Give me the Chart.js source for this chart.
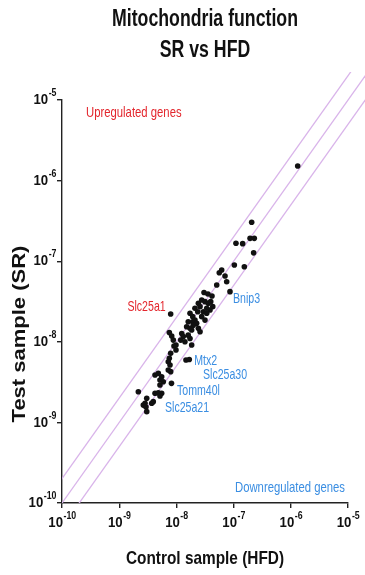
<!DOCTYPE html>
<html>
<head>
<meta charset="utf-8">
<script src="https://cdn.jsdelivr.net/npm/chart.js@4.4.1/dist/chart.umd.min.js"></script>
<style>
  html, body { margin: 0; padding: 0; background: #fff; }
</style>
</head>
<body>
<canvas id="chart" width="365" height="575"></canvas>
<script>
// expression per gene: control (HFD) on x, test (SR) on y
const controlHFD = [
  1.32e-6, 2.07e-7, 1.94e-7, 2.30e-7, 1.10e-7, 1.44e-7, 2.24e-7, 1.03e-7, 1.54e-7, 6.19e-8,
  5.62e-8, 7.08e-8, 7.57e-8, 5.07e-8, 8.65e-8, 3.04e-8, 3.56e-8, 4.19e-8, 2.77e-8, 3.16e-8,
  3.61e-8, 3.98e-8, 2.42e-8, 2.59e-8, 3.39e-8, 3.87e-8, 4.32e-8, 2.11e-8, 2.36e-8, 2.95e-8,
  3.39e-8, 7.94e-9, 1.73e-8, 1.93e-8, 2.77e-8, 3.16e-8, 1.61e-8, 1.93e-8, 2.11e-8, 2.26e-8,
  1.97e-8, 1.51e-8, 1.73e-8, 1.85e-8, 2.42e-8, 2.59e-8, 7.52e-9, 8.28e-9, 8.83e-9, 1.24e-8,
  1.32e-8, 1.19e-8, 1.41e-8, 1.73e-8, 1.85e-8, 9.08e-9, 9.84e-9, 1.61e-8, 9.84e-9, 7.94e-9,
  7.52e-9, 7.21e-9, 7.73e-9, 7.21e-9, 7.94e-9, 1.47e-8, 1.68e-8, 4.23e-9, 4.83e-9, 5.53e-9,
  5.16e-9, 5.90e-9, 5.16e-9, 8.20e-9, 2.16e-9, 4.23e-9, 4.83e-9, 5.53e-9, 5.16e-9, 3.03e-9,
  2.83e-9, 2.64e-9, 3.94e-9, 3.70e-9, 2.94e-9, 3.03e-9
];
const testSR = [
  1.52e-6, 3.04e-7, 1.92e-7, 1.92e-7, 1.67e-7, 1.65e-7, 1.27e-7, 8.97e-8, 8.55e-8, 7.78e-8,
  7.19e-8, 6.54e-8, 5.57e-8, 5.07e-8, 4.19e-8, 4.09e-8, 3.92e-8, 3.70e-8, 3.30e-8, 3.15e-8,
  3.01e-8, 3.15e-8, 3.01e-8, 2.73e-8, 2.61e-8, 2.48e-8, 2.73e-8, 2.61e-8, 2.36e-8, 2.36e-8,
  2.26e-8, 2.21e-8, 2.26e-8, 2.05e-8, 2.05e-8, 1.86e-8, 1.77e-8, 1.77e-8, 1.86e-8, 1.70e-8,
  1.61e-8, 1.54e-8, 1.47e-8, 1.40e-8, 1.47e-8, 1.33e-8, 1.30e-8, 1.18e-8, 1.05e-8, 1.27e-8,
  1.16e-8, 1.05e-8, 1.00e-8, 1.10e-8, 9.12e-9, 8.87e-9, 7.91e-9, 1.21e-8, 9.12e-9, 7.19e-9,
  6.24e-9, 5.66e-9, 5.15e-9, 4.47e-9, 4.26e-9, 5.94e-9, 6.02e-9, 3.87e-9, 4.06e-9, 3.69e-9,
  3.36e-9, 3.20e-9, 2.91e-9, 3.05e-9, 2.40e-9, 2.30e-9, 2.33e-9, 2.30e-9, 2.13e-9, 1.99e-9,
  1.73e-9, 1.64e-9, 1.81e-9, 1.73e-9, 1.55e-9, 1.36e-9
];

// named genes and the row each one belongs to
const geneNames = ['Slc25a1', 'Bnip3', 'Mtx2', 'Slc25a30', 'Tomm40l', 'Slc25a21'];
const geneRows = [31, 14, 66, 65, 73, 78];
const geneUp = [true, false, false, false, false, false];

// fold-change guide lines (2x, 1x, 0.5x)
const foldLines = [2, 1, 0.5];
const decades = [1e-10, 1e-9, 1e-8, 1e-7, 1e-6, 1e-5];

const titleLines = ['Mitochondria function', 'SR vs HFD'];
const xTitle = 'Control sample (HFD)';
const yTitle = 'Test sample (SR)';

const FONT = '"Liberation Sans", Arial, sans-serif';
const INK = '#111';
const RED = '#e3262d';
const BLUE = '#3b8ee2';

// label placement next to each gene's point (px offsets)
const labelPlace = {
  Slc25a1: { dx: -5, dy: -7, align: 'right' },
  Bnip3: { dx: 3, dy: 7.5, align: 'left' },
  Mtx2: { dx: 5, dy: 1.5, align: 'left' },
  Slc25a30: { dx: 17, dy: 15, align: 'left' },
  Tomm40l: { dx: 5.5, dy: 7.7, align: 'left' },
  Slc25a21: { dx: 5, dy: 12, align: 'left' }
};

const points = controlHFD.map((x, i) => ({ x: x, y: testSR[i] }));

const lineSets = foldLines.map(f => ({
  type: 'line',
  data: [{ x: 1e-11, y: 1e-11 * f }, { x: 1e-4, y: 1e-4 * f }],
  borderColor: '#d9b4ea',
  borderWidth: 1.3,
  pointRadius: 0,
  fill: false,
  order: 2,
  clip: { left: 0, top: 28, right: 17, bottom: 0 }
}));

// narrow text: the face is squeezed horizontally by sx
function text(ctx, str, x, y, o) {
  ctx.save();
  ctx.translate(x, y);
  ctx.scale(o.sx || 1, 1);
  if (o.rot) ctx.rotate(o.rot);
  ctx.font = o.font;
  ctx.fillStyle = o.color || INK;
  ctx.textAlign = o.align || 'center';
  ctx.textBaseline = 'middle';
  ctx.fillText(str, 0, 0);
  ctx.restore();
}

// 10 with a raised exponent
function drawPower(ctx, px, py, exp, align) {
  const sx = 0.88;
  const big = 'bold 15px ' + FONT;
  const sup = 'bold 10px ' + FONT;
  ctx.font = big;
  const w1 = ctx.measureText('10').width * sx;
  ctx.font = sup;
  const w2 = ctx.measureText(String(exp)).width * sx;
  const left = align === 'center' ? px - (w1 + w2) / 2 : px - w1 - w2;
  text(ctx, '10', left, py, { font: big, align: 'left', sx: sx });
  text(ctx, String(exp), left + w1 + 0.5, py - 6.5, { font: sup, align: 'left', sx: sx });
}

const chartText = {
  id: 'chartText',
  afterDraw(chart) {
    const { ctx, chartArea: area, scales: { x, y } } = chart;
    const mid = (area.left + area.right) / 2;

    text(ctx, titleLines[0], mid, 20, { font: 'bold 23px ' + FONT, sx: 0.77 });
    text(ctx, titleLines[1], mid, 51, { font: 'bold 23px ' + FONT, sx: 0.77 });
    text(ctx, xTitle, mid, 559, { font: 'bold 19px ' + FONT, sx: 0.81 });
    text(ctx, yTitle, 20, 334, { font: 'bold 22px ' + FONT, sx: 0.8, rot: -Math.PI / 2 });

    x.ticks.forEach(t => drawPower(ctx, x.getPixelForValue(t.value), 523, Math.round(Math.log10(t.value)), 'center'));
    y.ticks.forEach(t => drawPower(ctx, 56, y.getPixelForValue(t.value), Math.round(Math.log10(t.value)), 'right'));

    const small = '14.5px ' + FONT;
    text(ctx, 'Upregulated genes', area.left + 24, area.top + 13, { font: small, color: RED, align: 'left', sx: 0.78 });
    text(ctx, 'Downregulated genes', area.right - 3, area.bottom - 15, { font: small, color: BLUE, align: 'right', sx: 0.78 });

    geneNames.forEach((name, i) => {
      const r = geneRows[i];
      const p = labelPlace[name];
      const px = x.getPixelForValue(controlHFD[r]);
      const py = y.getPixelForValue(testSR[r]);
      text(ctx, name, px + p.dx, py + p.dy, { font: small, color: geneUp[i] ? RED : BLUE, align: p.align, sx: 0.73 });
    });
  }
};

const axisBase = {
  type: 'logarithmic',
  min: 1e-10,
  max: 1e-5,
  afterBuildTicks: axis => { axis.ticks = decades.map(v => ({ value: v })); },
  ticks: { display: false },
  grid: { drawOnChartArea: false, drawTicks: true, tickLength: 5, color: '#222', lineWidth: 1.4 },
  border: { display: true, color: '#222', width: 1.4 }
};

new Chart(document.getElementById('chart'), {
  type: 'scatter',
  data: {
    datasets: [
      ...lineSets,
      {
        label: 'genes',
        data: points,
        backgroundColor: INK,
        borderWidth: 0,
        pointRadius: 2.8,
        order: 1
      }
    ]
  },
  options: {
    responsive: false,
    animation: false,
    layout: { padding: { top: 100, right: 17, bottom: 0, left: 0 } },
    plugins: {
      legend: { display: false },
      tooltip: { enabled: false }
    },
    scales: {
      x: { ...axisBase, afterFit: s => { s.height = 72; } },
      y: { ...axisBase, afterFit: s => { s.width = 62; } }
    }
  },
  plugins: [chartText]
});
</script>
</body>
</html>
